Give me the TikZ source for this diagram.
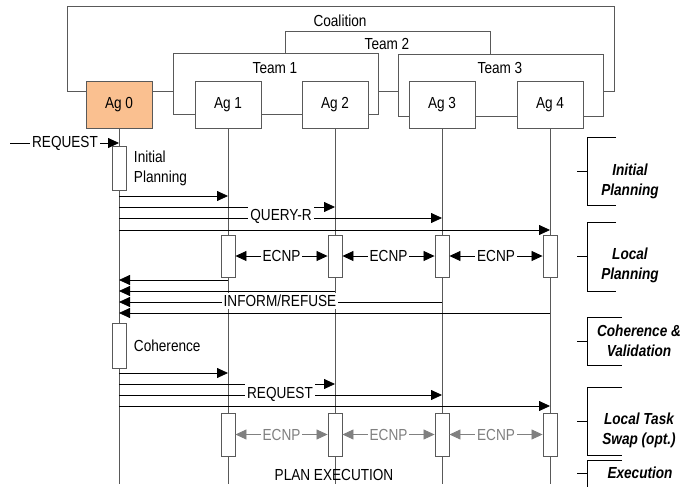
\documentclass[tikz,border=0pt]{standalone}
\usepackage{fontspec}
\setmainfont{Liberation Sans}[FakeStretch=0.85]
\usetikzlibrary{arrows.meta,positioning,calc}
\usepackage{xcolor}
\definecolor{agorange}{HTML}{FAC090}
\definecolor{linegray}{HTML}{595959}
\definecolor{ecnpgray}{HTML}{808080}

\begin{document}
\begin{tikzpicture}[
  x=1pt, y=-1pt,
  font=\fontsize{16}{20}\selectfont,
  grp/.style={draw=linegray, fill=white, line width=0.9pt},
  agent/.style={draw=linegray, fill=white, line width=0.9pt, minimum width=66pt, minimum height=47pt, inner sep=0pt},
  bar/.style={draw=linegray, fill=white, line width=0.9pt, minimum width=14pt, minimum height=43pt, inner sep=0pt},
  life/.style={draw=linegray, line width=0.9pt},
  msg/.style={-{Triangle[length=11pt,width=10pt]}, line width=0.8pt},
  ecnp/.style={{Triangle[length=11pt,width=10pt]}-{Triangle[length=11pt,width=10pt]}, line width=0.8pt},
  lbl/.style={fill=white, inner xsep=2pt, inner ysep=2.5pt},
  phase/.style={font=\fontsize{16}{20}\selectfont\bfseries\itshape, align=center},
  brk/.style={draw=black, line width=0.8pt}
]
\useasboundingbox (0,0) rectangle (682,487);

% groups
\draw[grp] (67,6) rectangle (614,91);
\node (coal) at (340,21) {Coalition};
\draw[grp, fill=none] (285,53) |- (490,31) -- (490,54);
\node (team2) at (387,44) {Team 2};
\draw[grp] (173,53) rectangle (378,114);
\node (team1) at (275,68) {Team 1};
\draw[grp] (398,54) rectangle (603,116);
\node (team3) at (500,68) {Team 3};

% agents and lifelines
\node[agent, fill=agorange] (ag0) at (119,104.5) {Ag 0};
\node[agent] (ag1) at (228,104.5) {Ag 1};
\node[agent] (ag2) at (335,104.5) {Ag 2};
\node[agent] (ag3) at (442,104.5) {Ag 3};
\node[agent] (ag4) at (550,104.5) {Ag 4};
\foreach \i in {0,...,4}
  \draw[life] (ag\i.south) -- (ag\i.south |- 0,484);

% initial planning
\coordinate (src) at (10,143);
\draw[msg] (src) -- (ag0 |- src);
\node[lbl] (req0) at (65,143) {REQUEST};
\node[bar, minimum height=44pt] (ip) at (119,168) {};
\node[right=4pt of ip, align=left] (iptxt) {Initial\\Planning};

\draw[msg] (ag0 |- 0,196) -- (ag1 |- 0,196);
\draw[msg] (ag0 |- 0,207) -- (ag2 |- 0,207);
\draw[msg] (ag0 |- 0,218) -- (ag3 |- 0,218);
\draw[msg] (ag0 |- 0,230) -- (ag4 |- 0,230);
\node[lbl] (qr) at (281,216) {QUERY-R};

% local planning
\node[bar, minimum height=42pt] (lp1) at (228,256) {};
\node[bar, minimum height=42pt] (lp2) at (335,256) {};
\node[bar, minimum height=42pt] (lp3) at (442,256) {};
\node[bar, minimum height=42pt] (lp4) at (550,256) {};
\draw[ecnp] (lp1.east) -- node[lbl]{ECNP} (lp2.west);
\draw[ecnp] (lp2.east) -- node[lbl]{ECNP} (lp3.west);
\draw[ecnp] (lp3.east) -- node[lbl]{ECNP} (lp4.west);

\draw[msg] (ag1 |- 0,280) -- (ag0 |- 0,280);
\draw[msg] (ag2 |- 0,291) -- (ag0 |- 0,291);
\draw[msg] (ag3 |- 0,302) -- (ag0 |- 0,302);
\draw[msg] (ag4 |- 0,313) -- (ag0 |- 0,313);
\node[lbl] (inf) at (280,301) {INFORM/REFUSE};

% coherence
\node[bar, minimum height=45pt] (cv) at (119,345.5) {};
\node[right=4pt of cv] (cvtxt) {Coherence};

\draw[msg] (ag0 |- 0,373) -- (ag1 |- 0,373);
\draw[msg] (ag0 |- 0,384) -- (ag2 |- 0,384);
\draw[msg] (ag0 |- 0,395) -- (ag3 |- 0,395);
\draw[msg] (ag0 |- 0,406) -- (ag4 |- 0,406);
\node[lbl] (req1) at (280,394) {REQUEST};

% task swap
\node[bar] (ts1) at (228,434.5) {};
\node[bar] (ts2) at (335,434.5) {};
\node[bar] (ts3) at (442,434.5) {};
\node[bar] (ts4) at (550,434.5) {};
\draw[ecnp, ecnpgray] (ts1.east) -- node[lbl, text=ecnpgray]{ECNP} (ts2.west);
\draw[ecnp, ecnpgray] (ts2.east) -- node[lbl, text=ecnpgray]{ECNP} (ts3.west);
\draw[ecnp, ecnpgray] (ts3.east) -- node[lbl, text=ecnpgray]{ECNP} (ts4.west);

\node (exec) at (334,475) {PLAN EXECUTION};

% phases, to the right
\draw[brk] (616,137) -| (587,205) -- (616,205);
\draw[brk] (577,171) -- (587,171);
\node[phase] (phinit) at (630,181) {Initial\\Planning};

\draw[brk] (616,222) -| (587,291) -- (616,291);
\draw[brk] (577,256) -- (587,256);
\node[phase] (phlocal) at (630,265) {Local\\Planning};

\draw[brk] (622,317) -| (587,365) -- (622,365);
\draw[brk] (577,341) -- (587,341);
\node[phase] (phcoh) at (639,341) {Coherence \&\\Validation};

\draw[brk] (622,387) -| (587,455) -- (622,455);
\draw[brk] (577,421) -- (587,421);
\node[phase] (phswap) at (639,430) {Local Task\\Swap (opt.)};

\draw[brk] (622,460) -| (587,487);
\draw[brk] (577,473) -- (587,473);
\node[phase] (phexec) at (640,473) {Execution};

\end{tikzpicture}
\end{document}
